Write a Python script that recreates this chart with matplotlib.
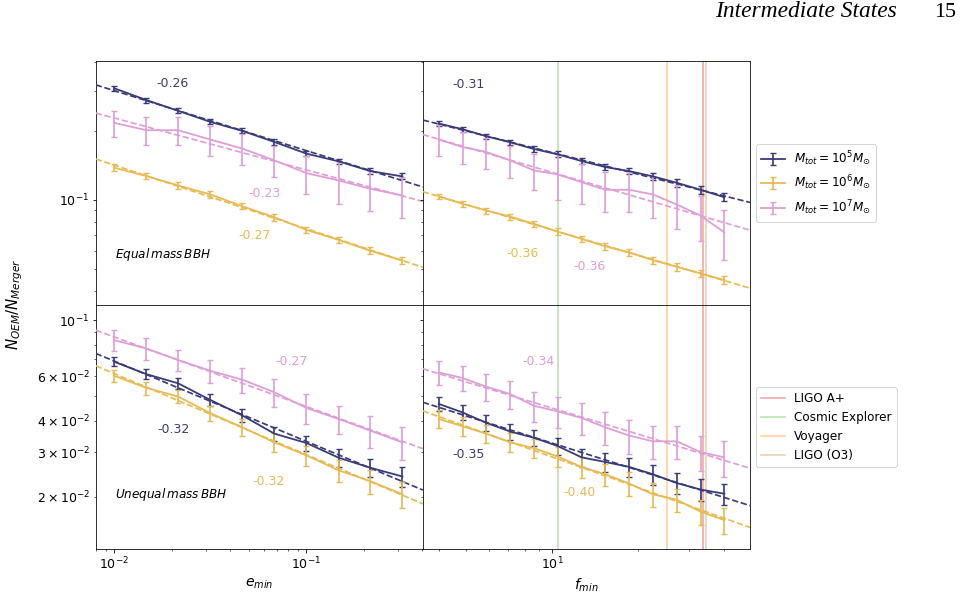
import numpy as np
import matplotlib
matplotlib.use("Agg")
import matplotlib.pyplot as plt

# ---------------- data ----------------
e_min = [0.01, 0.0147, 0.0215, 0.0316, 0.0464, 0.0681, 0.1, 0.147, 0.215, 0.316]
f_min = [4.0, 4.846, 5.871, 7.113, 8.618, 10.44, 12.65, 15.33, 18.57, 22.50, 27.26, 33.02, 40.0]

series_labels = [r"$M_{tot} = 10^5 M_{\odot}$", r"$M_{tot} = 10^6 M_{\odot}$", r"$M_{tot} = 10^7 M_{\odot}$"]
series_colors = ["#393b79", "#e7ba52", "#de9ed6"]

# top-left: equal mass, vs e_min
navy_TL = [0.307, 0.2726, 0.2447, 0.219, 0.200, 0.1789, 0.1591, 0.1472, 0.1335, 0.1265]
navy_TL_err = [0.0073, 0.0065, 0.006, 0.0055, 0.005, 0.0047, 0.0044, 0.0042, 0.004, 0.0038]
gold_TL = [0.1381, 0.1269, 0.1155, 0.1055, 0.0937, 0.0839, 0.0739, 0.0668, 0.0599, 0.0542]
gold_TL_err = [0.0047, 0.0042, 0.0038, 0.0034, 0.003, 0.0028, 0.0025, 0.0023, 0.0021, 0.002]
pink_TL = [0.2168, 0.2013, 0.2013, 0.1833, 0.1674, 0.1487, 0.1308, 0.1215, 0.1117, 0.1044]
pink_TL_err = [0.028, 0.028, 0.028, 0.0274, 0.026, 0.0232, 0.0247, 0.0253, 0.0222, 0.0213]

# top-right: equal mass, vs f_min
navy_TR = [0.2154, 0.2034, 0.1895, 0.1784, 0.1667, 0.158, 0.1477, 0.139, 0.1335, 0.1265, 0.1187, 0.1106, 0.1026]
navy_TR_err = [0.0058, 0.0055, 0.0052, 0.005, 0.0048, 0.0047, 0.0046, 0.0045, 0.0045, 0.0044, 0.0044, 0.0043, 0.0043]
gold_TR = [0.1034, 0.0961, 0.0898, 0.0845, 0.0785, 0.0726, 0.0675, 0.0626, 0.0589, 0.0545, 0.051, 0.0477, 0.0446]
gold_TR_err = [0.0031, 0.0029, 0.0027, 0.0026, 0.0025, 0.0024, 0.0023, 0.0022, 0.0021, 0.002, 0.0019, 0.0018, 0.0017]
pink_TR = [0.1833, 0.1701, 0.1618, 0.1487, 0.1344, 0.1291, 0.1194, 0.1106, 0.1106, 0.1055, 0.0954, 0.0853, 0.0721]
pink_TR_err = [0.0285, 0.0267, 0.025, 0.0237, 0.024, 0.029, 0.0236, 0.0222, 0.0222, 0.022, 0.0205, 0.019, 0.0177]

# bottom-left: unequal mass, vs e_min
navy_BL = [0.0685, 0.0612, 0.0563, 0.0484, 0.042, 0.0356, 0.0327, 0.0286, 0.0261, 0.0241]
navy_BL_err = [0.0028, 0.0027, 0.0027, 0.0026, 0.0025, 0.0024, 0.0023, 0.0023, 0.0022, 0.0021]
gold_BL = [0.0603, 0.054, 0.0499, 0.0429, 0.0377, 0.0329, 0.0292, 0.0255, 0.0231, 0.0205]
gold_BL_err = [0.0033, 0.0032, 0.003, 0.003, 0.0029, 0.0028, 0.0027, 0.0026, 0.0025, 0.0024]
pink_BL = [0.0834, 0.0773, 0.0696, 0.0631, 0.0582, 0.0519, 0.045, 0.0407, 0.0366, 0.0329]
pink_BL_err = [0.008, 0.0075, 0.0068, 0.0068, 0.0068, 0.0065, 0.006, 0.0053, 0.0053, 0.005]

# bottom-right: unequal mass, vs f_min
navy_BR = [0.0467, 0.0432, 0.0393, 0.0363, 0.0343, 0.0318, 0.0287, 0.0275, 0.0263, 0.0246, 0.0227, 0.0214, 0.0206]
navy_BR_err = [0.0031, 0.003, 0.0028, 0.0026, 0.0025, 0.0025, 0.0024, 0.0023, 0.0023, 0.0022, 0.0021, 0.0021, 0.002]
gold_BR = [0.0407, 0.0381, 0.0356, 0.0329, 0.0312, 0.0289, 0.0263, 0.0246, 0.0226, 0.0205, 0.0195, 0.0175, 0.0162]
gold_BR_err = [0.0033, 0.0032, 0.003, 0.0029, 0.0028, 0.0027, 0.0026, 0.0025, 0.0024, 0.0022, 0.0021, 0.002, 0.0019]
pink_BR = [0.0622, 0.0591, 0.0546, 0.0511, 0.0459, 0.0436, 0.0411, 0.0377, 0.035, 0.0332, 0.0332, 0.0301, 0.0287]
pink_BR_err = [0.0067, 0.0068, 0.0068, 0.0066, 0.0062, 0.006, 0.0058, 0.0055, 0.0053, 0.005, 0.005, 0.0048, 0.0046]

# slope annotations
slopes_TL = ["-0.26", "-0.27", "-0.23"]
slopes_TR = ["-0.31", "-0.36", "-0.36"]
slopes_BL = ["-0.32", "-0.32", "-0.27"]
slopes_BR = ["-0.35", "-0.40", "-0.34"]

panel_titles = [r"$Equal\,mass\,BBH$", r"$Unequal\,mass\,BBH$"]

# detector low-frequency cutoffs (Hz)
det_labels = ["LIGO A+", "Cosmic Explorer", "Voyager", "LIGO (O3)"]
det_freqs = [33.6, 10.46, 25.1, 34.4]
det_colors = ["#f4a3a3", "#b9e3b0", "#fdcf98", "#e3d3b3"]

# ---------------- figure ----------------
plt.rcParams["font.size"] = 12.5
fig, axes = plt.subplots(2, 2, figsize=(964 / 72, 598 / 72), dpi=72,
                         sharex="col", sharey="row")
fig.subplots_adjust(left=0.0993, right=0.778, top=0.898, bottom=0.0819,
                    wspace=0, hspace=0)

panels = [
    (axes[0, 0], e_min, [navy_TL, gold_TL, pink_TL], [navy_TL_err, gold_TL_err, pink_TL_err], slopes_TL,
     [(0.236, 0.908), (0.486, 0.284), (0.517, 0.458)]),
    (axes[0, 1], f_min, [navy_TR, gold_TR, pink_TR], [navy_TR_err, gold_TR_err, pink_TR_err], slopes_TR,
     [(0.141, 0.905), (0.306, 0.211), (0.51, 0.158)]),
    (axes[1, 0], e_min, [navy_BL, gold_BL, pink_BL], [navy_BL_err, gold_BL_err, pink_BL_err], slopes_BL,
     [(0.237, 0.489), (0.527, 0.278), (0.598, 0.769)]),
    (axes[1, 1], f_min, [navy_BR, gold_BR, pink_BR], [navy_BR_err, gold_BR_err, pink_BR_err], slopes_BR,
     [(0.141, 0.388), (0.4775, 0.231), (0.355, 0.767)]),
]

for ax in axes.flat:
    ax.set_xscale("log")
    ax.set_yscale("log")

axes[0, 0].set_xlim(0.008, 0.4036)
axes[0, 1].set_xlim(3.52, 49.2)
axes[0, 0].set_ylim(0.0347, 0.404)
axes[1, 0].set_ylim(0.01245, 0.1149)

# detector lines on the f_min panels
for ax in axes[:, 1]:
    for lab, fr, col in zip(det_labels, det_freqs, det_colors):
        ax.axvline(fr, color=col, lw=1.6, label=lab, zorder=1)

for ax, xs, ys_list, err_list, slabels, spos in panels:
    x = np.array(xs)
    xl = np.array(ax.get_xlim())
    for y, err, col, lab, st, pos in zip(ys_list, err_list, series_colors,
                                          series_labels, slabels, spos):
        y = np.array(y)
        ax.errorbar(x, y, yerr=err, color=col, lw=1.8, capsize=3.2,
                    elinewidth=1.7, capthick=1.4, label=lab, zorder=3)
        p = np.polyfit(np.log10(x), np.log10(y), 1)
        ax.plot(xl, 10 ** np.polyval(p, np.log10(xl)), ls="--", color=col,
                lw=1.7, zorder=3)
        ax.text(pos[0], pos[1], st, color=col, fontsize=12.5,
                transform=ax.transAxes, ha="center", va="center")
    ax.set_xlim(xl)

axes[0, 0].text(0.059, 0.206, panel_titles[0], transform=axes[0, 0].transAxes,
                ha="left", va="center", fontsize=12)
axes[1, 0].text(0.059, 0.224, panel_titles[1], transform=axes[1, 0].transAxes,
                ha="left", va="center", fontsize=12)

# legends
h, l = axes[0, 1].get_legend_handles_labels()
hs = [hh for hh, ll in zip(h, l) if ll in series_labels]
ls_ = [ll for ll in l if ll in series_labels]
axes[0, 1].legend(hs, ls_, loc="center left", bbox_to_anchor=(1.0, 0.5), fontsize=12)
h, l = axes[1, 1].get_legend_handles_labels()
hd = [hh for hh, ll in zip(h, l) if ll in det_labels]
ld = [ll for ll in l if ll in det_labels]
axes[1, 1].legend(hd, ld, loc="center left", bbox_to_anchor=(1.0, 0.5), fontsize=12)

axes[1, 0].set_xlabel(r"$e_{min}$", fontsize=14)
axes[1, 1].set_xlabel(r"$f_{min}$", fontsize=14)
fig.text(15 / 964, 1 - 304 / 598, r"$N_{OEM}/N_{Merger}$", rotation=90,
         ha="center", va="center", fontsize=15)

# page header
fig.text(715 / 964, 1 - 17 / 598, "Intermediate States", fontfamily="Liberation Serif",
         style="italic", fontsize=23.5, ha="left", va="baseline")
fig.text(934 / 964, 1 - 17 / 598, "15", fontfamily="Liberation Serif",
         fontsize=22, ha="left", va="baseline")

fig.savefig("out.png", dpi=72)
